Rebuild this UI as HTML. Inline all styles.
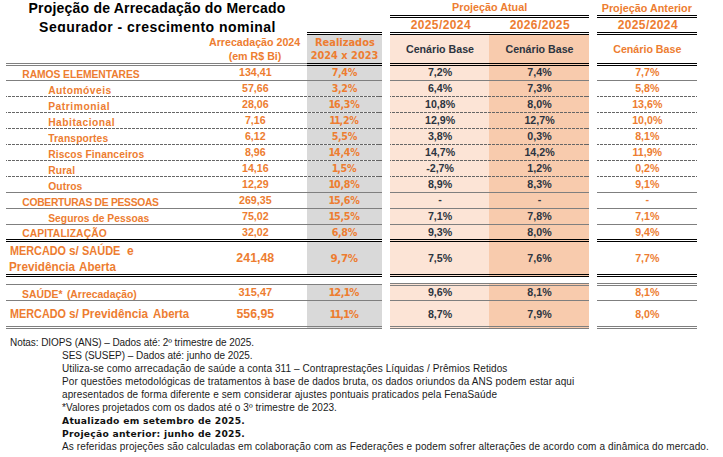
<!DOCTYPE html>
<html lang="pt-BR"><head><meta charset="utf-8"><title>Projeção de Arrecadação do Mercado Segurador</title>
<style>
html,body{margin:0;padding:0;background:#fff}
body{width:723px;height:457px;position:relative;overflow:hidden;font-family:"Liberation Sans",sans-serif}
.t{position:absolute;white-space:nowrap}
.r{position:absolute}
.n1{margin:0 -0.8px}
.dw{background-color:#f4f4f4}
.d{background-image:repeating-linear-gradient(90deg,#666666 0,#666666 3px,transparent 3px,transparent 4px)}
#title{position:absolute;left:0;top:0;width:320px;height:32px;overflow:hidden}
.tl{position:absolute;left:7px;width:300px;text-align:center;font-weight:700;font-size:14px;line-height:20px;color:#000;white-space:nowrap;letter-spacing:0.15px}
</style></head><body>
<div class="r" style="left:307px;top:35px;width:75px;height:242px;background:#D9D9D9"></div>
<div class="r" style="left:307px;top:285px;width:75px;height:44px;background:#D9D9D9"></div>
<div class="r" style="left:390px;top:35px;width:99px;height:242px;background:#FCE4D6"></div>
<div class="r" style="left:489px;top:35px;width:100px;height:242px;background:#F8CBAD"></div>
<div class="r" style="left:390px;top:284px;width:99px;height:45px;background:#FCE4D6"></div>
<div class="r" style="left:489px;top:284px;width:100px;height:45px;background:#F8CBAD"></div>
<div id="title"><div class="tl" style="top:-2px;letter-spacing:0.2px">Projeção de Arrecadação do Mercado</div><div class="tl" style="top:17px;letter-spacing:0.46px;left:7.5px">Segurador - crescimento nominal</div></div>
<div class="r" style="left:390px;top:15px;width:199px;height:1px;background:#000"></div>
<div class="r" style="left:597px;top:15px;width:100px;height:1px;background:#000"></div>
<div class="r" style="left:390px;top:17px;width:199px;height:1px;background:#000"></div>
<div class="r" style="left:597px;top:17px;width:100px;height:1px;background:#000"></div>
<div class="r" style="left:390px;top:32px;width:199px;height:1px;background:#000"></div>
<div class="r" style="left:597px;top:32px;width:100px;height:1px;background:#000"></div>
<div class="r" style="left:390px;top:34px;width:199px;height:1px;background:#000"></div>
<div class="r" style="left:597px;top:34px;width:100px;height:1px;background:#000"></div>
<div class="r" style="left:307px;top:32px;width:75px;height:1px;background:#000"></div>
<div class="r" style="left:307px;top:34px;width:75px;height:1px;background:#000"></div>
<div class="r" style="left:6px;top:63px;width:301px;height:1px;background:#808080"></div>
<div class="r" style="left:307px;top:63px;width:75px;height:1px;background:#000"></div>
<div class="r" style="left:390px;top:63px;width:199px;height:1px;background:#000"></div>
<div class="r" style="left:597px;top:63px;width:100px;height:1px;background:#000"></div>
<div class="r" style="left:6px;top:65px;width:301px;height:1px;background:#808080"></div>
<div class="r" style="left:307px;top:65px;width:75px;height:1px;background:#000"></div>
<div class="r" style="left:390px;top:65px;width:199px;height:1px;background:#000"></div>
<div class="r" style="left:597px;top:65px;width:100px;height:1px;background:#000"></div>
<div class="r" style="left:307px;top:33px;width:75px;height:1px;background:#fff"></div>
<div class="t" style="top:1px;font-size:10.8px;line-height:12px;color:#ED7D31;font-family:'Liberation Sans',sans-serif;font-weight:700;left:339.60px;width:300px;text-align:center;">Projeção Atual</div>
<div class="t" style="top:2px;font-size:10.8px;line-height:12px;color:#ED7D31;font-family:'Liberation Sans',sans-serif;font-weight:700;left:496.80px;width:300px;text-align:center;">Projeção Anterior</div>
<div class="t" style="top:18px;font-size:12px;line-height:14px;color:#ED7D31;font-family:'Liberation Sans',sans-serif;font-weight:700;letter-spacing:0.4px;left:290.80px;width:300px;text-align:center;">2025/2024</div>
<div class="t" style="top:18px;font-size:12px;line-height:14px;color:#ED7D31;font-family:'Liberation Sans',sans-serif;font-weight:700;letter-spacing:0.4px;left:389.80px;width:300px;text-align:center;">2026/2025</div>
<div class="t" style="top:18px;font-size:12px;line-height:14px;color:#ED7D31;font-family:'Liberation Sans',sans-serif;font-weight:700;letter-spacing:0.4px;left:497.80px;width:300px;text-align:center;">2025/2024</div>
<div class="t" style="top:36px;font-size:10.67px;line-height:12px;color:#ED7D31;font-family:'Liberation Sans',sans-serif;font-weight:700;left:104.60px;width:300px;text-align:center;">Arrecadação 2024</div>
<div class="t" style="top:50px;font-size:10.67px;line-height:12px;color:#ED7D31;font-family:'Liberation Sans',sans-serif;font-weight:700;left:105.00px;width:300px;text-align:center;">(em R$ Bi)</div>
<div class="t" style="top:37px;font-size:9.9px;line-height:11px;color:#ED7D31;font-family:'DejaVu Sans','Liberation Sans',sans-serif;font-weight:700;left:194.90px;width:300px;text-align:center;">Realizados</div>
<div class="t" style="top:50px;font-size:9.8px;line-height:11px;color:#ED7D31;font-family:'DejaVu Sans','Liberation Sans',sans-serif;font-weight:700;left:194.50px;width:300px;text-align:center;">2024 x 2023</div>
<div class="t" style="top:43px;font-size:10.67px;line-height:12px;color:#2C3440;font-family:'Liberation Sans',sans-serif;font-weight:700;left:290.00px;width:300px;text-align:center;">Cenário Base</div>
<div class="t" style="top:43px;font-size:10.67px;line-height:12px;color:#2C3440;font-family:'Liberation Sans',sans-serif;font-weight:700;left:389.50px;width:300px;text-align:center;">Cenário Base</div>
<div class="t" style="top:43px;font-size:10.67px;line-height:12px;color:#ED7D31;font-family:'Liberation Sans',sans-serif;font-weight:700;left:497.30px;width:300px;text-align:center;">Cenário Base</div>
<div class="t" style="top:69px;font-size:10.3px;line-height:11px;color:#ED7D31;font-family:'Liberation Sans',sans-serif;font-weight:700;letter-spacing:-0.06px;left:22.3px;">RAMOS ELEMENTARES</div>
<div class="t" style="top:66px;font-size:10.67px;line-height:12px;color:#ED7D31;font-family:'Liberation Sans',sans-serif;font-weight:700;left:105.30px;width:300px;text-align:center;">134,41</div>
<div class="t" style="top:67px;font-size:9.6px;line-height:11px;color:#ED7D31;font-family:'DejaVu Sans','Liberation Sans',sans-serif;font-weight:700;letter-spacing:-0.3px;left:194.35px;width:300px;text-align:center;">7,4%</div>
<div class="t" style="top:66px;font-size:10.67px;line-height:12px;color:#2C3440;font-family:'Liberation Sans',sans-serif;font-weight:700;left:290.10px;width:300px;text-align:center;">7,2%</div>
<div class="t" style="top:66px;font-size:10.67px;line-height:12px;color:#2C3440;font-family:'Liberation Sans',sans-serif;font-weight:700;left:389.50px;width:300px;text-align:center;">7,4%</div>
<div class="t" style="top:66px;font-size:10.67px;line-height:12px;color:#ED7D31;font-family:'Liberation Sans',sans-serif;font-weight:700;left:497.30px;width:300px;text-align:center;">7,7%</div>
<div class="r" style="left:6px;top:80px;width:376px;height:1px;background:#7f7f7f"></div>
<div class="r" style="left:390px;top:80px;width:199px;height:1px;background:#7f7f7f"></div>
<div class="r" style="left:597px;top:80px;width:100px;height:1px;background:#7f7f7f"></div>
<div class="t" style="top:85px;font-size:10.3px;line-height:11px;color:#ED7D31;font-family:'Liberation Sans',sans-serif;font-weight:700;letter-spacing:0.46px;left:48.2px;">Automóveis</div>
<div class="t" style="top:82px;font-size:10.67px;line-height:12px;color:#ED7D31;font-family:'Liberation Sans',sans-serif;font-weight:700;left:105.30px;width:300px;text-align:center;">57,66</div>
<div class="t" style="top:83px;font-size:9.6px;line-height:11px;color:#ED7D31;font-family:'DejaVu Sans','Liberation Sans',sans-serif;font-weight:700;letter-spacing:-0.3px;left:194.35px;width:300px;text-align:center;">3,2%</div>
<div class="t" style="top:82px;font-size:10.67px;line-height:12px;color:#2C3440;font-family:'Liberation Sans',sans-serif;font-weight:700;left:290.10px;width:300px;text-align:center;">6,4%</div>
<div class="t" style="top:82px;font-size:10.67px;line-height:12px;color:#2C3440;font-family:'Liberation Sans',sans-serif;font-weight:700;left:389.50px;width:300px;text-align:center;">7,3%</div>
<div class="t" style="top:82px;font-size:10.67px;line-height:12px;color:#ED7D31;font-family:'Liberation Sans',sans-serif;font-weight:700;left:497.30px;width:300px;text-align:center;">5,8%</div>
<div class="r d" style="left:6px;top:96px;width:301px;height:1px;background-position:-2px 0"></div>
<div class="r d dw" style="left:307px;top:96px;width:75px;height:1px;background-position:-3px 0"></div>
<div class="r d" style="left:390px;top:96px;width:199px;height:1px;background-position:-2px 0"></div>
<div class="r d" style="left:597px;top:96px;width:100px;height:1px;background-position:-1px 0"></div>
<div class="t" style="top:101px;font-size:10.3px;line-height:11px;color:#ED7D31;font-family:'Liberation Sans',sans-serif;font-weight:700;letter-spacing:0.53px;left:48.2px;">Patrimonial</div>
<div class="t" style="top:98px;font-size:10.67px;line-height:12px;color:#ED7D31;font-family:'Liberation Sans',sans-serif;font-weight:700;left:105.30px;width:300px;text-align:center;">28,06</div>
<div class="t" style="top:99px;font-size:9.6px;line-height:11px;color:#ED7D31;font-family:'DejaVu Sans','Liberation Sans',sans-serif;font-weight:700;letter-spacing:-0.3px;left:194.35px;width:300px;text-align:center;"><span class="n1">1</span>6,3%</div>
<div class="t" style="top:98px;font-size:10.67px;line-height:12px;color:#2C3440;font-family:'Liberation Sans',sans-serif;font-weight:700;left:290.10px;width:300px;text-align:center;">10,8%</div>
<div class="t" style="top:98px;font-size:10.67px;line-height:12px;color:#2C3440;font-family:'Liberation Sans',sans-serif;font-weight:700;left:389.50px;width:300px;text-align:center;">8,0%</div>
<div class="t" style="top:98px;font-size:10.67px;line-height:12px;color:#ED7D31;font-family:'Liberation Sans',sans-serif;font-weight:700;left:497.30px;width:300px;text-align:center;">13,6%</div>
<div class="r d" style="left:6px;top:112px;width:301px;height:1px;background-position:-2px 0"></div>
<div class="r d dw" style="left:307px;top:112px;width:75px;height:1px;background-position:-3px 0"></div>
<div class="r d" style="left:390px;top:112px;width:199px;height:1px;background-position:-2px 0"></div>
<div class="r d" style="left:597px;top:112px;width:100px;height:1px;background-position:-1px 0"></div>
<div class="t" style="top:117px;font-size:10.3px;line-height:11px;color:#ED7D31;font-family:'Liberation Sans',sans-serif;font-weight:700;letter-spacing:0.475px;left:48.2px;">Habitacional</div>
<div class="t" style="top:114px;font-size:10.67px;line-height:12px;color:#ED7D31;font-family:'Liberation Sans',sans-serif;font-weight:700;left:105.30px;width:300px;text-align:center;">7,16</div>
<div class="t" style="top:115px;font-size:9.6px;line-height:11px;color:#ED7D31;font-family:'DejaVu Sans','Liberation Sans',sans-serif;font-weight:700;letter-spacing:-0.3px;left:194.35px;width:300px;text-align:center;"><span class="n1">1</span><span class="n1">1</span>,2%</div>
<div class="t" style="top:114px;font-size:10.67px;line-height:12px;color:#2C3440;font-family:'Liberation Sans',sans-serif;font-weight:700;left:290.10px;width:300px;text-align:center;">12,9%</div>
<div class="t" style="top:114px;font-size:10.67px;line-height:12px;color:#2C3440;font-family:'Liberation Sans',sans-serif;font-weight:700;left:389.50px;width:300px;text-align:center;">12,7%</div>
<div class="t" style="top:114px;font-size:10.67px;line-height:12px;color:#ED7D31;font-family:'Liberation Sans',sans-serif;font-weight:700;left:497.30px;width:300px;text-align:center;">10,0%</div>
<div class="r d" style="left:6px;top:128px;width:301px;height:1px;background-position:-2px 0"></div>
<div class="r d dw" style="left:307px;top:128px;width:75px;height:1px;background-position:-3px 0"></div>
<div class="r d" style="left:390px;top:128px;width:199px;height:1px;background-position:-2px 0"></div>
<div class="r d" style="left:597px;top:128px;width:100px;height:1px;background-position:-1px 0"></div>
<div class="t" style="top:133px;font-size:10.3px;line-height:11px;color:#ED7D31;font-family:'Liberation Sans',sans-serif;font-weight:700;letter-spacing:0.1px;left:48.2px;">Transportes</div>
<div class="t" style="top:130px;font-size:10.67px;line-height:12px;color:#ED7D31;font-family:'Liberation Sans',sans-serif;font-weight:700;left:105.30px;width:300px;text-align:center;">6,12</div>
<div class="t" style="top:131px;font-size:9.6px;line-height:11px;color:#ED7D31;font-family:'DejaVu Sans','Liberation Sans',sans-serif;font-weight:700;letter-spacing:-0.3px;left:194.35px;width:300px;text-align:center;">5,5%</div>
<div class="t" style="top:130px;font-size:10.67px;line-height:12px;color:#2C3440;font-family:'Liberation Sans',sans-serif;font-weight:700;left:290.10px;width:300px;text-align:center;">3,8%</div>
<div class="t" style="top:130px;font-size:10.67px;line-height:12px;color:#2C3440;font-family:'Liberation Sans',sans-serif;font-weight:700;left:389.50px;width:300px;text-align:center;">0,3%</div>
<div class="t" style="top:130px;font-size:10.67px;line-height:12px;color:#ED7D31;font-family:'Liberation Sans',sans-serif;font-weight:700;left:497.30px;width:300px;text-align:center;">8,1%</div>
<div class="r d" style="left:6px;top:144px;width:301px;height:1px;background-position:-2px 0"></div>
<div class="r d dw" style="left:307px;top:144px;width:75px;height:1px;background-position:-3px 0"></div>
<div class="r d" style="left:390px;top:144px;width:199px;height:1px;background-position:-2px 0"></div>
<div class="r d" style="left:597px;top:144px;width:100px;height:1px;background-position:-1px 0"></div>
<div class="t" style="top:149px;font-size:10.3px;line-height:11px;color:#ED7D31;font-family:'Liberation Sans',sans-serif;font-weight:700;letter-spacing:0.09px;left:48.2px;">Riscos Financeiros</div>
<div class="t" style="top:146px;font-size:10.67px;line-height:12px;color:#ED7D31;font-family:'Liberation Sans',sans-serif;font-weight:700;left:105.30px;width:300px;text-align:center;">8,96</div>
<div class="t" style="top:147px;font-size:9.6px;line-height:11px;color:#ED7D31;font-family:'DejaVu Sans','Liberation Sans',sans-serif;font-weight:700;letter-spacing:-0.3px;left:194.35px;width:300px;text-align:center;"><span class="n1">1</span>4,4%</div>
<div class="t" style="top:146px;font-size:10.67px;line-height:12px;color:#2C3440;font-family:'Liberation Sans',sans-serif;font-weight:700;left:290.10px;width:300px;text-align:center;">14,7%</div>
<div class="t" style="top:146px;font-size:10.67px;line-height:12px;color:#2C3440;font-family:'Liberation Sans',sans-serif;font-weight:700;left:389.50px;width:300px;text-align:center;">14,2%</div>
<div class="t" style="top:146px;font-size:10.67px;line-height:12px;color:#ED7D31;font-family:'Liberation Sans',sans-serif;font-weight:700;left:497.30px;width:300px;text-align:center;">11,9%</div>
<div class="r d" style="left:6px;top:160px;width:301px;height:1px;background-position:-2px 0"></div>
<div class="r d dw" style="left:307px;top:160px;width:75px;height:1px;background-position:-3px 0"></div>
<div class="r d" style="left:390px;top:160px;width:199px;height:1px;background-position:-2px 0"></div>
<div class="r d" style="left:597px;top:160px;width:100px;height:1px;background-position:-1px 0"></div>
<div class="t" style="top:165px;font-size:10.3px;line-height:11px;color:#ED7D31;font-family:'Liberation Sans',sans-serif;font-weight:700;letter-spacing:0.14px;left:48.2px;">Rural</div>
<div class="t" style="top:162px;font-size:10.67px;line-height:12px;color:#ED7D31;font-family:'Liberation Sans',sans-serif;font-weight:700;left:105.30px;width:300px;text-align:center;">14,16</div>
<div class="t" style="top:163px;font-size:9.6px;line-height:11px;color:#ED7D31;font-family:'DejaVu Sans','Liberation Sans',sans-serif;font-weight:700;letter-spacing:-0.3px;left:194.35px;width:300px;text-align:center;"><span class="n1">1</span>,5%</div>
<div class="t" style="top:162px;font-size:10.67px;line-height:12px;color:#2C3440;font-family:'Liberation Sans',sans-serif;font-weight:700;left:290.10px;width:300px;text-align:center;">-2,7%</div>
<div class="t" style="top:162px;font-size:10.67px;line-height:12px;color:#2C3440;font-family:'Liberation Sans',sans-serif;font-weight:700;left:389.50px;width:300px;text-align:center;">1,2%</div>
<div class="t" style="top:162px;font-size:10.67px;line-height:12px;color:#ED7D31;font-family:'Liberation Sans',sans-serif;font-weight:700;left:497.30px;width:300px;text-align:center;">0,2%</div>
<div class="r d" style="left:6px;top:176px;width:301px;height:1px;background-position:-2px 0"></div>
<div class="r d dw" style="left:307px;top:176px;width:75px;height:1px;background-position:-3px 0"></div>
<div class="r d" style="left:390px;top:176px;width:199px;height:1px;background-position:-2px 0"></div>
<div class="r d" style="left:597px;top:176px;width:100px;height:1px;background-position:-1px 0"></div>
<div class="t" style="top:181px;font-size:10.3px;line-height:11px;color:#ED7D31;font-family:'Liberation Sans',sans-serif;font-weight:700;letter-spacing:0.08px;left:48.2px;">Outros</div>
<div class="t" style="top:178px;font-size:10.67px;line-height:12px;color:#ED7D31;font-family:'Liberation Sans',sans-serif;font-weight:700;left:105.30px;width:300px;text-align:center;">12,29</div>
<div class="t" style="top:179px;font-size:9.6px;line-height:11px;color:#ED7D31;font-family:'DejaVu Sans','Liberation Sans',sans-serif;font-weight:700;letter-spacing:-0.3px;left:194.35px;width:300px;text-align:center;"><span class="n1">1</span>0,8%</div>
<div class="t" style="top:178px;font-size:10.67px;line-height:12px;color:#2C3440;font-family:'Liberation Sans',sans-serif;font-weight:700;left:290.10px;width:300px;text-align:center;">8,9%</div>
<div class="t" style="top:178px;font-size:10.67px;line-height:12px;color:#2C3440;font-family:'Liberation Sans',sans-serif;font-weight:700;left:389.50px;width:300px;text-align:center;">8,3%</div>
<div class="t" style="top:178px;font-size:10.67px;line-height:12px;color:#ED7D31;font-family:'Liberation Sans',sans-serif;font-weight:700;left:497.30px;width:300px;text-align:center;">9,1%</div>
<div class="r" style="left:6px;top:192px;width:376px;height:1px;background:#7f7f7f"></div>
<div class="r" style="left:390px;top:192px;width:199px;height:1px;background:#7f7f7f"></div>
<div class="r" style="left:597px;top:192px;width:100px;height:1px;background:#7f7f7f"></div>
<div class="t" style="top:197px;font-size:10.3px;line-height:11px;color:#ED7D31;font-family:'Liberation Sans',sans-serif;font-weight:700;letter-spacing:-0.29px;left:22.3px;">COBERTURAS DE PESSOAS</div>
<div class="t" style="top:194px;font-size:10.67px;line-height:12px;color:#ED7D31;font-family:'Liberation Sans',sans-serif;font-weight:700;left:105.30px;width:300px;text-align:center;">269,35</div>
<div class="t" style="top:195px;font-size:9.6px;line-height:11px;color:#ED7D31;font-family:'DejaVu Sans','Liberation Sans',sans-serif;font-weight:700;letter-spacing:-0.3px;left:194.35px;width:300px;text-align:center;"><span class="n1">1</span>5,6%</div>
<div class="t" style="top:193px;font-size:10.67px;line-height:12px;color:#2C3440;font-family:'Liberation Sans',sans-serif;font-weight:700;left:290.10px;width:300px;text-align:center;">-</div>
<div class="t" style="top:193px;font-size:10.67px;line-height:12px;color:#2C3440;font-family:'Liberation Sans',sans-serif;font-weight:700;left:389.50px;width:300px;text-align:center;">-</div>
<div class="t" style="top:193px;font-size:10.67px;line-height:12px;color:#ED7D31;font-family:'Liberation Sans',sans-serif;font-weight:700;left:497.30px;width:300px;text-align:center;">-</div>
<div class="r" style="left:6px;top:208px;width:376px;height:1px;background:#7f7f7f"></div>
<div class="r" style="left:390px;top:208px;width:199px;height:1px;background:#7f7f7f"></div>
<div class="r" style="left:597px;top:208px;width:100px;height:1px;background:#7f7f7f"></div>
<div class="t" style="top:213px;font-size:10.3px;line-height:11px;color:#ED7D31;font-family:'Liberation Sans',sans-serif;font-weight:700;letter-spacing:0.02px;left:48.2px;">Seguros de Pessoas</div>
<div class="t" style="top:210px;font-size:10.67px;line-height:12px;color:#ED7D31;font-family:'Liberation Sans',sans-serif;font-weight:700;left:105.30px;width:300px;text-align:center;">75,02</div>
<div class="t" style="top:211px;font-size:9.6px;line-height:11px;color:#ED7D31;font-family:'DejaVu Sans','Liberation Sans',sans-serif;font-weight:700;letter-spacing:-0.3px;left:194.35px;width:300px;text-align:center;"><span class="n1">1</span>5,5%</div>
<div class="t" style="top:210px;font-size:10.67px;line-height:12px;color:#2C3440;font-family:'Liberation Sans',sans-serif;font-weight:700;left:290.10px;width:300px;text-align:center;">7,1%</div>
<div class="t" style="top:210px;font-size:10.67px;line-height:12px;color:#2C3440;font-family:'Liberation Sans',sans-serif;font-weight:700;left:389.50px;width:300px;text-align:center;">7,8%</div>
<div class="t" style="top:210px;font-size:10.67px;line-height:12px;color:#ED7D31;font-family:'Liberation Sans',sans-serif;font-weight:700;left:497.30px;width:300px;text-align:center;">7,1%</div>
<div class="r" style="left:6px;top:224px;width:376px;height:1px;background:#7f7f7f"></div>
<div class="r" style="left:390px;top:224px;width:199px;height:1px;background:#7f7f7f"></div>
<div class="r" style="left:597px;top:224px;width:100px;height:1px;background:#7f7f7f"></div>
<div class="t" style="top:228px;font-size:10.3px;line-height:11px;color:#ED7D31;font-family:'Liberation Sans',sans-serif;font-weight:700;letter-spacing:0.09px;left:22.3px;">CAPITALIZAÇÃO</div>
<div class="t" style="top:226px;font-size:10.67px;line-height:12px;color:#ED7D31;font-family:'Liberation Sans',sans-serif;font-weight:700;left:105.30px;width:300px;text-align:center;">32,02</div>
<div class="t" style="top:227px;font-size:9.6px;line-height:11px;color:#ED7D31;font-family:'DejaVu Sans','Liberation Sans',sans-serif;font-weight:700;letter-spacing:-0.3px;left:194.35px;width:300px;text-align:center;">6,8%</div>
<div class="t" style="top:226px;font-size:10.67px;line-height:12px;color:#2C3440;font-family:'Liberation Sans',sans-serif;font-weight:700;left:290.10px;width:300px;text-align:center;">9,3%</div>
<div class="t" style="top:226px;font-size:10.67px;line-height:12px;color:#2C3440;font-family:'Liberation Sans',sans-serif;font-weight:700;left:389.50px;width:300px;text-align:center;">8,0%</div>
<div class="t" style="top:226px;font-size:10.67px;line-height:12px;color:#ED7D31;font-family:'Liberation Sans',sans-serif;font-weight:700;left:497.30px;width:300px;text-align:center;">9,4%</div>
<div class="r" style="left:6px;top:239px;width:376px;height:1px;background:#000"></div>
<div class="r" style="left:390px;top:239px;width:199px;height:1px;background:#000"></div>
<div class="r" style="left:597px;top:239px;width:100px;height:1px;background:#000"></div>
<div class="r" style="left:6px;top:241px;width:376px;height:1px;background:#000"></div>
<div class="r" style="left:390px;top:241px;width:199px;height:1px;background:#000"></div>
<div class="r" style="left:597px;top:241px;width:100px;height:1px;background:#000"></div>
<div class="r" style="left:6px;top:274px;width:376px;height:1px;background:#000"></div>
<div class="r" style="left:390px;top:274px;width:199px;height:1px;background:#000"></div>
<div class="r" style="left:597px;top:274px;width:100px;height:1px;background:#000"></div>
<div class="r" style="left:6px;top:276px;width:376px;height:1px;background:#000"></div>
<div class="r" style="left:390px;top:276px;width:199px;height:1px;background:#000"></div>
<div class="r" style="left:597px;top:276px;width:100px;height:1px;background:#000"></div>
<div class="r" style="left:6px;top:240px;width:376px;height:1px;background:#fff"></div>
<div class="r" style="left:597px;top:240px;width:100px;height:1px;background:#fff"></div>
<div class="r" style="left:6px;top:275px;width:376px;height:1px;background:#fff"></div>
<div class="r" style="left:597px;top:275px;width:100px;height:1px;background:#fff"></div>
<div class="t" style="top:244px;font-size:12px;line-height:14px;color:#ED7D31;font-family:'Liberation Sans',sans-serif;font-weight:700;left:9.6px;transform-origin:0 50%;transform:scaleX(0.9030);">MERCADO</div>
<div class="t" style="top:244px;font-size:12px;line-height:14px;color:#ED7D31;font-family:'Liberation Sans',sans-serif;font-weight:700;left:68.8px;transform-origin:0 50%;transform:scaleX(0.9800);">s/</div>
<div class="t" style="top:244px;font-size:12px;line-height:14px;color:#ED7D31;font-family:'Liberation Sans',sans-serif;font-weight:700;left:82.1px;transform-origin:0 50%;transform:scaleX(0.9140);">SAÚDE</div>
<div class="t" style="top:244px;font-size:12px;line-height:14px;color:#ED7D31;font-family:'Liberation Sans',sans-serif;font-weight:700;left:127px;">e</div>
<div class="t" style="top:260px;font-size:12px;line-height:14px;color:#ED7D31;font-family:'Liberation Sans',sans-serif;font-weight:700;left:9.4px;transform-origin:0 50%;transform:scaleX(0.9800);">Previdência</div>
<div class="t" style="top:260px;font-size:12px;line-height:14px;color:#ED7D31;font-family:'Liberation Sans',sans-serif;font-weight:700;left:79.0px;transform-origin:0 50%;transform:scaleX(0.9700);">Aberta</div>
<div class="t" style="top:251px;font-size:12.4px;line-height:14px;color:#ED7D31;font-family:'Liberation Sans',sans-serif;font-weight:700;left:105.30px;width:300px;text-align:center;">241,48</div>
<div class="t" style="top:252px;font-size:10.3px;line-height:12px;color:#ED7D31;font-family:'DejaVu Sans','Liberation Sans',sans-serif;font-weight:700;letter-spacing:-0.3px;left:194.15px;width:300px;text-align:center;">9,7%</div>
<div class="t" style="top:252px;font-size:10.67px;line-height:12px;color:#2C3440;font-family:'Liberation Sans',sans-serif;font-weight:700;left:290.10px;width:300px;text-align:center;">7,5%</div>
<div class="t" style="top:252px;font-size:10.67px;line-height:12px;color:#2C3440;font-family:'Liberation Sans',sans-serif;font-weight:700;left:389.50px;width:300px;text-align:center;">7,6%</div>
<div class="t" style="top:252px;font-size:10.67px;line-height:12px;color:#ED7D31;font-family:'Liberation Sans',sans-serif;font-weight:700;left:497.30px;width:300px;text-align:center;">7,7%</div>
<div class="r" style="left:6px;top:284px;width:376px;height:1px;background:#7f7f7f"></div>
<div class="r" style="left:390px;top:283px;width:199px;height:1px;background:#7f7f7f"></div>
<div class="r" style="left:597px;top:283px;width:100px;height:1px;background:#7f7f7f"></div>
<div class="r" style="left:390px;top:285px;width:199px;height:1px;background:#7f7f7f"></div>
<div class="r" style="left:597px;top:285px;width:100px;height:1px;background:#7f7f7f"></div>
<div class="t" style="top:289px;font-size:10.4px;line-height:11px;color:#ED7D31;font-family:'Liberation Sans',sans-serif;font-weight:700;left:22.1px;word-spacing:1.5px;">SAÚDE* (Arrecadação)</div>
<div class="t" style="top:286px;font-size:11px;line-height:12px;color:#ED7D31;font-family:'Liberation Sans',sans-serif;font-weight:700;left:105.30px;width:300px;text-align:center;">315,47</div>
<div class="t" style="top:287px;font-size:10.1px;line-height:11px;color:#ED7D31;font-family:'DejaVu Sans','Liberation Sans',sans-serif;font-weight:700;letter-spacing:-0.4px;left:194.10px;width:300px;text-align:center;"><span class="n1">1</span>2,<span class="n1">1</span>%</div>
<div class="t" style="top:286px;font-size:10.67px;line-height:12px;color:#2C3440;font-family:'Liberation Sans',sans-serif;font-weight:700;left:290.10px;width:300px;text-align:center;">9,6%</div>
<div class="t" style="top:286px;font-size:10.67px;line-height:12px;color:#2C3440;font-family:'Liberation Sans',sans-serif;font-weight:700;left:389.50px;width:300px;text-align:center;">8,1%</div>
<div class="t" style="top:286px;font-size:10.67px;line-height:12px;color:#ED7D31;font-family:'Liberation Sans',sans-serif;font-weight:700;left:497.30px;width:300px;text-align:center;">8,1%</div>
<div class="r" style="left:6px;top:300px;width:376px;height:1px;background:#7f7f7f"></div>
<div class="r" style="left:390px;top:300px;width:199px;height:1px;background:#7f7f7f"></div>
<div class="r" style="left:597px;top:300px;width:100px;height:1px;background:#7f7f7f"></div>
<div class="t" style="top:307px;font-size:12px;line-height:14px;color:#ED7D31;font-family:'Liberation Sans',sans-serif;font-weight:700;left:9.6px;transform-origin:0 50%;transform:scaleX(0.9030);">MERCADO</div>
<div class="t" style="top:307px;font-size:12px;line-height:14px;color:#ED7D31;font-family:'Liberation Sans',sans-serif;font-weight:700;left:68.8px;transform-origin:0 50%;transform:scaleX(0.9800);">s/</div>
<div class="t" style="top:307px;font-size:12px;line-height:14px;color:#ED7D31;font-family:'Liberation Sans',sans-serif;font-weight:700;left:82.3px;transform-origin:0 50%;transform:scaleX(0.9800);">Previdência</div>
<div class="t" style="top:307px;font-size:12px;line-height:14px;color:#ED7D31;font-family:'Liberation Sans',sans-serif;font-weight:700;left:152.6px;transform-origin:0 50%;transform:scaleX(0.9500);">Aberta</div>
<div class="t" style="top:307px;font-size:12.3px;line-height:14px;color:#ED7D31;font-family:'Liberation Sans',sans-serif;font-weight:700;left:105.30px;width:300px;text-align:center;">556,95</div>
<div class="t" style="top:309px;font-size:10.1px;line-height:11px;color:#ED7D31;font-family:'DejaVu Sans','Liberation Sans',sans-serif;font-weight:700;letter-spacing:-0.4px;left:194.30px;width:300px;text-align:center;"><span class="n1">1</span><span class="n1">1</span>,<span class="n1">1</span>%</div>
<div class="t" style="top:308px;font-size:10.67px;line-height:12px;color:#2C3440;font-family:'Liberation Sans',sans-serif;font-weight:700;left:290.10px;width:300px;text-align:center;">8,7%</div>
<div class="t" style="top:308px;font-size:10.67px;line-height:12px;color:#2C3440;font-family:'Liberation Sans',sans-serif;font-weight:700;left:389.50px;width:300px;text-align:center;">7,9%</div>
<div class="t" style="top:308px;font-size:10.67px;line-height:12px;color:#ED7D31;font-family:'Liberation Sans',sans-serif;font-weight:700;left:497.30px;width:300px;text-align:center;">8,0%</div>
<div class="r" style="left:6px;top:326px;width:376px;height:1px;background:#7f7f7f"></div>
<div class="r" style="left:390px;top:326px;width:199px;height:1px;background:#7f7f7f"></div>
<div class="r" style="left:597px;top:326px;width:100px;height:1px;background:#7f7f7f"></div>
<div class="r" style="left:6px;top:328px;width:376px;height:1px;background:#7f7f7f"></div>
<div class="r" style="left:390px;top:328px;width:199px;height:1px;background:#7f7f7f"></div>
<div class="r" style="left:597px;top:328px;width:100px;height:1px;background:#7f7f7f"></div>
<div class="t" style="top:337px;font-size:10px;line-height:11px;color:#1a1a1a;font-family:'Liberation Sans',sans-serif;font-weight:400;letter-spacing:-0.07px;left:10px;white-space:pre;">Notas: DIOPS (ANS) – Dados até: 2º trimestre de 2025.</div>
<div class="t" style="top:350px;font-size:10px;line-height:11px;color:#1a1a1a;font-family:'Liberation Sans',sans-serif;font-weight:400;letter-spacing:-0.03px;left:62px;white-space:pre;">SES (SUSEP) – Dados até: junho de 2025.</div>
<div class="t" style="top:363px;font-size:10px;line-height:11px;color:#1a1a1a;font-family:'Liberation Sans',sans-serif;font-weight:400;letter-spacing:0.087px;left:62px;white-space:pre;">Utiliza-se como arrecadação de saúde a conta 311 – Contraprestações Líquidas / Prêmios Retidos</div>
<div class="t" style="top:376px;font-size:10px;line-height:11px;color:#1a1a1a;font-family:'Liberation Sans',sans-serif;font-weight:400;letter-spacing:0.097px;left:62px;white-space:pre;">Por questões metodológicas de tratamentos à base de dados bruta, os dados oriundos da ANS podem estar aqui</div>
<div class="t" style="top:389px;font-size:10px;line-height:11px;color:#1a1a1a;font-family:'Liberation Sans',sans-serif;font-weight:400;letter-spacing:0.12px;left:62px;white-space:pre;">apresentados de forma diferente e sem considerar ajustes pontuais praticados pela FenaSaúde</div>
<div class="t" style="top:402px;font-size:10px;line-height:11px;color:#1a1a1a;font-family:'Liberation Sans',sans-serif;font-weight:400;letter-spacing:0.05px;left:62px;white-space:pre;">*Valores projetados com os dados até o 3º trimestre de 2023.</div>
<div class="t" style="top:415px;font-size:9.2px;line-height:11px;color:#111;font-family:'DejaVu Sans','Liberation Sans',sans-serif;font-weight:700;letter-spacing:0.27px;left:62px;white-space:pre;">Atualizado em setembro de 2025.</div>
<div class="t" style="top:428px;font-size:9.2px;line-height:11px;color:#111;font-family:'DejaVu Sans','Liberation Sans',sans-serif;font-weight:700;letter-spacing:0.27px;left:62px;white-space:pre;">Projeção anterior: junho de 2025.</div>
<div class="t" style="top:441px;font-size:10px;line-height:11px;color:#1a1a1a;font-family:'Liberation Sans',sans-serif;font-weight:400;letter-spacing:0.125px;left:62px;white-space:pre;">As referidas projeções são calculadas em colaboração com as Federações e podem sofrer alterações de acordo com a dinâmica do mercado.</div>
</body></html>
